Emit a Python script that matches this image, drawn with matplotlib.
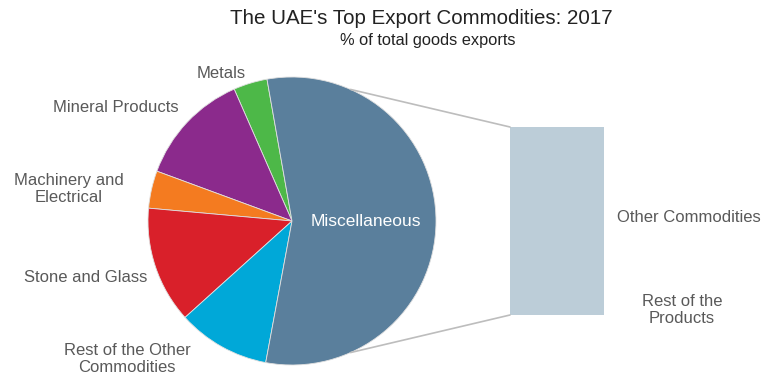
import numpy as np
import matplotlib.pyplot as plt
from matplotlib.patches import ConnectionPatch

plt.rcParams['font.family'] = ['Liberation Sans', 'DejaVu Sans']

# shares of total goods exports (%), counter-clockwise from Metals
labels = ['Metals', 'Mineral Products', 'Machinery and\nElectrical', 'Stone and Glass',
          'Rest of the Other\nCommodities', 'Miscellaneous']
shares = [3.8, 12.8, 4.2, 13.1, 10.4, 55.7]
colors = ['#4db848', '#8b2a8c', '#f47b20', '#d9202a', '#00a8d8', '#5a7f9c']

# breakdown of the miscellaneous slice
bar_labels = ['Rest of the\nProducts', 'Other Commodities']
bar_values = [20, 80]
bar_color = '#bccdd8'

W, H = 771, 378
fig = plt.figure(figsize=(W / 100, H / 100), dpi=100)

cx, cy, r = 292, 221, 144
ax = fig.add_axes([(cx - r) / W, (H - cy - r) / H, 2 * r / W, 2 * r / H])
wedges, _ = ax.pie(shares, colors=colors, startangle=100, counterclock=True,
                   radius=1, wedgeprops=dict(linewidth=0.6, edgecolor='#e0e0e0'))
ax.set_xlim(-1, 1)
ax.set_ylim(-1, 1)
ax.set_aspect('auto')
ax.axis('off')

ax.text(0.51, 0.0, 'Miscellaneous', color='white', fontsize=12.5, ha='center', va='center')

# labels around the pie (figure pixel positions)
label_pos = [(221, 73), (116, 108), (69, 189), (86, 277), (127, 359)]
for lab, (x, y) in zip(labels[:-1], label_pos):
    fig.text(x / W, 1 - y / H, lab, fontsize=12, color='#595959', ha='center', va='center',
             linespacing=1.2)

# bar of the miscellaneous slice
bx0, bx1, by0, by1 = 510, 604, 127, 315
bax = fig.add_axes([bx0 / W, (H - by1) / H, (bx1 - bx0) / W, (by1 - by0) / H])
bottom = 0
for v in bar_values:
    bax.bar(0, v, bottom=bottom, width=1, color=bar_color, edgecolor='none')
    bottom += v
bax.set_xlim(-0.5, 0.5)
bax.set_ylim(0, sum(bar_values))
bax.axis('off')

fig.text(617 / W, 1 - 218 / H, bar_labels[1], fontsize=12, color='#595959', ha='left', va='center')
fig.text(682 / W, 1 - 310 / H, bar_labels[0], fontsize=12, color='#595959', ha='center',
         va='center', linespacing=1.2)

# connector lines from the miscellaneous slice to the bar
for ang, yb in [(66, sum(bar_values)), (-66, 0)]:
    th = np.deg2rad(ang)
    con = ConnectionPatch(xyA=(np.cos(th), np.sin(th)), coordsA=ax.transData,
                          xyB=(-0.5, yb), coordsB=bax.transData,
                          color='#bdbdbd', linewidth=1.2)
    fig.add_artist(con)

fig.text(421 / W, 1 - 18 / H, "The UAE's Top Export Commodities: 2017", fontsize=14.8,
         color='#222222', ha='center', va='center')
fig.text(428 / W, 1 - 41 / H, '% of total goods exports', fontsize=11.8, color='#222222',
         ha='center', va='center')

fig.savefig('out.png', dpi=100)
